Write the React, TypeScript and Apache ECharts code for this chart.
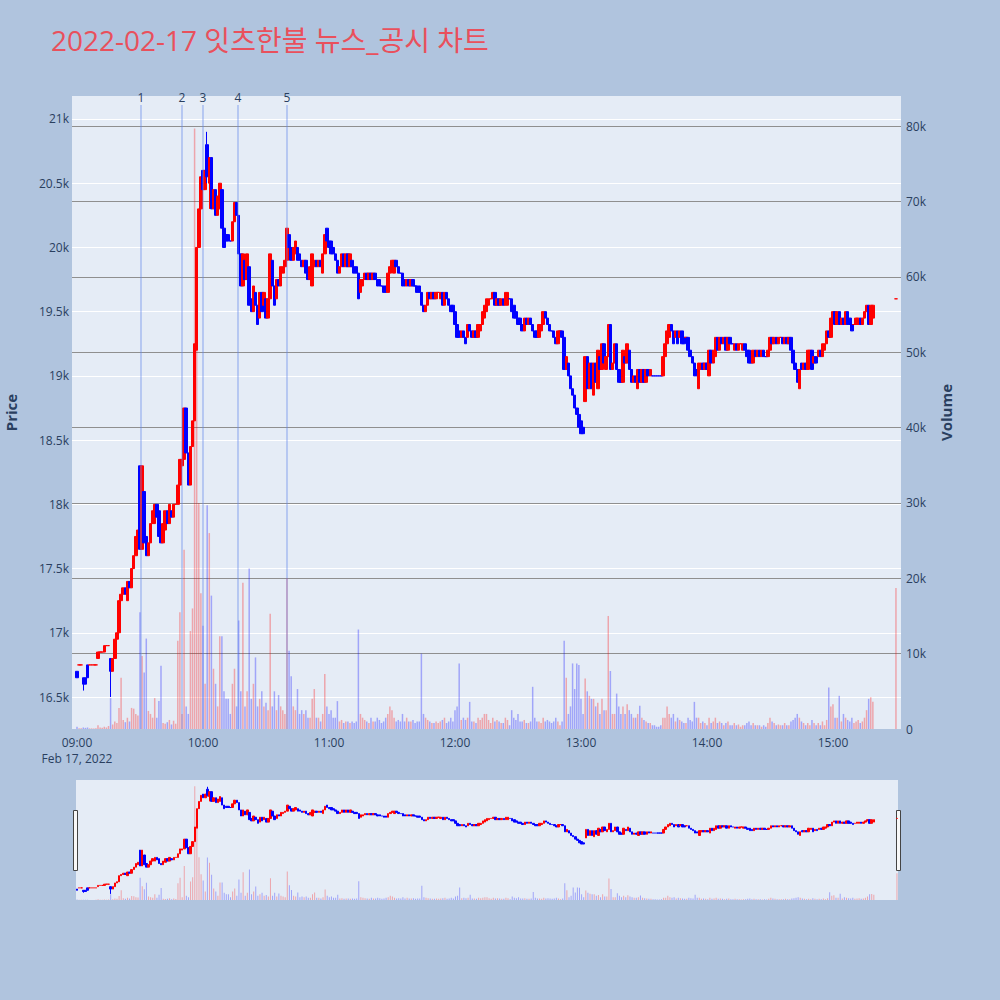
import React, { useEffect, useRef } from "react";
import * as echarts from "echarts";

// ---- data (minute index from 09:00) ----
const opens = [
  16700,16750,16750,16650,16650,16750,16750,16750,16750,16750,
  16800,16850,16850,16850,16900,16900,16800,16700,16800,16950,
  17000,17250,17300,17350,17250,17400,17350,17500,17600,17700,
  18300,17650,18100,17750,17600,17700,17850,17850,18000,17950,
  17750,17700,17800,17950,17850,17950,17900,18000,18000,18150,
  18300,18350,18750,18400,18150,18450,18650,19200,20000,20300,
  20600,20450,20800,20500,20700,20300,20450,20250,20300,20450,
  20150,20100,20100,20050,20050,20200,20350,20250,19950,19700,
  19900,19750,19850,19600,19500,19650,19550,19450,19650,19550,
  19600,19450,19600,19900,19700,19600,19750,19700,19800,19850,
  19900,20100,20000,19900,19950,20000,19950,19900,19850,19900,
  19800,19750,19700,19850,19900,19850,19900,19800,19950,20150,
  20050,20050,20000,19950,19900,19800,19850,19950,19850,19950,
  19850,19900,19850,19850,19800,19650,19700,19750,19800,19750,
  19800,19750,19800,19750,19750,19700,19700,19700,19650,19800,
  19850,19800,19900,19850,19800,19800,19750,19700,19750,19700,
  19750,19700,19700,19700,19650,19550,19500,19550,19650,19600,
  19650,19600,19650,19600,19650,19550,19650,19600,19550,19550,
  19500,19400,19350,19300,19350,19300,19300,19400,19350,19300,
  19350,19300,19350,19400,19450,19500,19550,19600,19600,19650,
  19550,19600,19550,19600,19550,19550,19600,19600,19550,19500,
  19450,19450,19400,19350,19450,19400,19450,19400,19350,19350,
  19300,19350,19400,19500,19450,19400,19350,19350,19300,19250,
  19350,19350,19300,19050,19100,19000,18900,18850,18750,18700,
  18650,18600,18800,19150,18900,19100,18850,19100,18900,19150,
  19050,19250,19050,19150,19400,19050,19100,19250,19050,19000,
  18950,19150,19100,19200,19050,18950,19000,18900,19050,18950,
  19050,18950,19050,19000,19000,19000,19000,19000,19000,19000,
  19150,19250,19300,19400,19350,19300,19350,19300,19350,19300,
  19300,19300,19200,19150,19100,19050,18900,19050,19100,19050,
  19100,19000,19200,19100,19150,19300,19200,19300,19250,19300,
  19200,19300,19250,19200,19250,19200,19250,19200,19250,19200,
  19200,19150,19100,19200,19150,19200,19150,19200,19150,19150,
  19200,19300,19250,19300,19250,19300,19300,19250,19300,19250,
  19300,19200,19100,19050,18900,19100,19050,19100,19050,19150,
  19200,19100,19150,19150,19200,19150,19200,19250,19350,19300,
  19450,19500,19400,19500,19400,19450,19400,19500,19450,19400,
  19400,19400,19400,19450,19400,19450,19500,19550,19400,19450,
];
const closes = [
  16650,16750,16750,16600,16600,16650,16750,16750,16750,16750,
  16850,16850,16850,16900,16900,16900,16700,16800,16950,17000,
  17250,17300,17350,17300,17400,17350,17500,17600,17750,17800,
  17650,18300,17700,17600,17700,17850,17950,18000,17900,17750,
  17700,17850,17950,17850,18000,17900,18000,18000,18150,18350,
  18350,18750,18400,18150,18450,18650,19250,20000,20300,20550,
  20450,20600,20550,20700,20300,20450,20250,20400,20500,20150,
  20000,20050,20050,20050,20200,20350,20250,19950,19700,19950,
  19750,19950,19550,19500,19700,19550,19400,19650,19500,19650,
  19450,19600,19950,19700,19550,19750,19700,19850,19850,19900,
  20150,20000,19900,20000,20050,19900,19900,19850,19900,19800,
  19750,19850,19950,19900,19850,19900,19850,19950,20100,20050,
  20000,19950,19950,19900,19800,19850,19950,19850,19950,19850,
  19950,19850,19800,19800,19600,19750,19750,19800,19750,19800,
  19750,19800,19750,19700,19700,19700,19650,19650,19800,19850,
  19900,19900,19850,19800,19800,19700,19700,19750,19700,19750,
  19700,19700,19650,19650,19550,19500,19550,19650,19600,19650,
  19600,19650,19650,19650,19550,19650,19600,19550,19500,19500,
  19400,19300,19300,19350,19300,19250,19400,19350,19300,19350,
  19300,19400,19400,19500,19550,19600,19600,19600,19650,19550,
  19600,19550,19600,19550,19650,19650,19600,19500,19450,19450,
  19400,19400,19350,19450,19400,19450,19400,19350,19300,19300,
  19400,19400,19500,19450,19400,19350,19350,19300,19250,19350,
  19350,19300,19050,19150,19000,18900,18850,18750,18700,18600,
  18550,18550,19150,18900,19100,18900,19100,18950,19200,19050,
  19250,19100,19150,19400,19050,19100,19250,19050,18950,18950,
  19200,19100,19250,19050,18950,19000,18950,19050,18950,19050,
  18950,19050,19000,19050,19000,19000,19000,19000,19000,19150,
  19250,19350,19400,19350,19250,19350,19250,19350,19250,19250,
  19300,19200,19150,19100,19000,19000,19100,19100,19050,19100,
  19050,19200,19100,19200,19300,19200,19300,19250,19300,19200,
  19300,19250,19250,19250,19200,19250,19250,19250,19200,19150,
  19100,19100,19200,19150,19200,19150,19200,19150,19150,19200,
  19300,19250,19300,19250,19300,19300,19250,19300,19250,19300,
  19200,19100,19050,18950,19050,19050,19100,19050,19200,19200,
  19050,19150,19100,19200,19150,19250,19250,19350,19300,19450,
  19500,19400,19500,19400,19450,19400,19500,19400,19400,19350,
  19400,19450,19450,19400,19450,19500,19550,19400,19550,19550,
];
const volumes = [
  300,100,100,200,150,200,80,80,80,100,
  500,200,150,300,200,400,4100,600,1000,800,
  2800,6800,1200,900,1500,1000,2800,2700,2000,1800,
  15500,9700,7500,12000,2400,2000,1500,4100,1500,3700,
  8400,800,700,900,1200,600,1100,700,11700,15500,
  2000,23800,3000,2000,13000,16000,79700,56600,30000,18000,
  13700,6000,29700,26000,17700,8000,6000,3000,12300,12300,
  5000,4000,4000,2000,6000,8000,3000,14400,5000,19400,
  3000,5000,21300,4000,6000,9500,3000,4000,5000,3000,
  3500,2500,15300,3000,5000,2500,4500,3000,2500,2000,
  20000,10400,7000,3000,2500,5300,2000,2500,2000,2500,
  1500,1500,4000,5300,1500,1500,1000,2000,7300,3000,
  2000,2500,1500,1500,3700,1000,1200,800,1000,1000,
  800,1000,800,1000,13200,2000,1500,1200,1000,800,
  1500,1000,1000,1500,1200,800,1000,1500,2000,3000,
  2500,1500,1000,1200,1000,2000,1000,1500,1000,1000,
  1200,800,1000,1000,10000,2000,1500,1200,1000,800,
  800,1000,800,1000,1200,1500,800,1000,1500,1000,
  2500,3000,8700,1200,1500,1200,1500,3600,1000,1000,
  800,1500,1200,1500,2000,2000,1200,800,1500,1000,
  1200,1000,800,800,1500,1200,500,2500,1500,1200,
  2000,1000,1000,1200,800,800,1000,5600,1500,1000,
  1000,800,1500,1000,1200,1000,800,1000,1500,1000,
  500,1000,11700,6800,2000,3000,8700,5300,8700,8500,
  4000,2000,6700,5000,4400,4000,4000,3000,3500,2000,
  4000,2500,2500,15000,7700,2000,2000,4700,3000,2000,
  3000,2000,3300,2500,2000,1500,1500,2000,3100,1500,
  1200,1000,800,800,500,500,300,300,500,1500,
  1500,3000,2000,1500,2000,1000,1500,1200,1000,800,
  800,1500,1200,1000,3600,1500,1500,800,1000,800,
  500,1500,800,1000,1500,800,1000,800,500,800,
  1000,500,500,800,500,600,300,500,500,800,
  1000,500,800,500,500,500,300,500,300,800,
  1500,1000,800,500,600,500,500,800,500,500,
  1000,1200,1500,2000,1500,1000,800,500,800,500,
  1200,800,500,800,500,1000,500,1200,5500,3000,
  3300,1500,1500,4400,1000,2000,1500,1200,1000,1500,
  800,1000,1200,800,1000,1500,2500,4000,4200,3600,
];
// visible wicks: [minute, high, low]
const wicks = [
  [3, 16650, 16550],
  [16, 16800, 16500],
  [62, 20900, 20500],
  [63, 20700, 20300],
];
// closing auction at 15:30
const auctionMinute = 390;
const auctionPrice = 19600;
const auctionVolume = 18700;

const newsTimes = [30.5, 50, 60, 76.7, 100];
const newsLabels = ["1", "2", "3", "4", "5"];
const hourTicks = [0, 60, 120, 180, 240, 300, 360];
const priceTicks = [16500, 17000, 17500, 18000, 18500, 19000, 19500, 20000, 20500, 21000];

const TITLE = "2022-02-17 잇츠한불 뉴스_공시 차트";
const UP = "#ff0000";
const DOWN = "#0000ff";
const UP_A = "rgba(255,0,0,0.3)";
const DOWN_A = "rgba(0,0,255,0.3)";
const FONT = '"Open Sans", "Noto Sans CJK KR", sans-serif';
const TXT = "#2a3f5f";

const P_MIN = 16251, P_MAX = 21179, V_MAX = 84000;

function buildData() {
  const allO = [...opens, auctionPrice];
  const allC = [...closes, auctionPrice];
  const allM = [...opens.map((_, i) => i), auctionMinute];
  const allV = [...volumes, auctionVolume];
  const ups: boolean[] = [];
  for (let i = 0; i < allO.length; i++) {
    const o = allO[i], c = allC[i];
    if (c > o) ups.push(true);
    else if (c < o) ups.push(false);
    else if (i === 0) ups.push(true);
    else if (c > allC[i - 1]) ups.push(true);
    else if (c < allC[i - 1]) ups.push(false);
    else ups.push(ups[i - 1]);
  }
  const candles = allO.map((o, i) => {
    const c = allC[i];
    let lo = Math.min(o, c), hi = Math.max(o, c);
    const w = wicks.find((k) => k[0] === allM[i]);
    if (w) { hi = Math.max(hi, w[1]); lo = Math.min(lo, w[2]); }
    const col = ups[i] ? UP : DOWN;
    return {
      value: [allM[i], o, c, lo, hi],
      itemStyle: { color: col, color0: col, borderColor: col, borderColor0: col },
    };
  });
  const vols = allV.map((v, i) => ({
    value: [allM[i], v],
    itemStyle: { color: ups[i] ? UP_A : DOWN_A },
  }));
  return { candles, vols };
}

export default function App() {
  const ref = useRef<HTMLDivElement>(null);
  useEffect(() => {
    if (!ref.current) return;
    const chart = echarts.init(ref.current, null, { renderer: "svg" });
    const { candles, vols } = buildData();
    const fmtTime = (v: number) => {
      const h = 9 + Math.floor(v / 60);
      const s = (h < 10 ? "0" : "") + h + ":00";
      return v === 0 ? s + "\nFeb 17, 2022" : s;
    };
    chart.setOption({
      animation: false,
      backgroundColor: "#b0c4de",
      textStyle: { fontFamily: FONT },
      title: {
        text: TITLE,
        left: 46,
        top: 21,
        textStyle: { fontFamily: FONT, fontSize: 28, fontWeight: "normal", color: "#e9505c" },
      },
      grid: [
        { left: 72, right: 99, top: 96, height: 633, show: true, backgroundColor: "#e5ecf6", borderWidth: 0, containLabel: false, outerBoundsMode: "none" },
        { left: 76, right: 102, top: 780, height: 120, show: true, backgroundColor: "#e5ecf6", borderWidth: 0, containLabel: false, outerBoundsMode: "none" },
      ],
      xAxis: [
        {
          type: "value", gridIndex: 0, min: -2.38, max: 392.4,
          axisLine: { show: false }, axisTick: { show: false }, splitLine: { show: false },
          axisLabel: {
            customValues: hourTicks, formatter: fmtTime, color: TXT, fontSize: 12,
            lineHeight: 16, margin: 5, fontFamily: FONT,
          },
        },
        {
          type: "value", gridIndex: 1, min: -0.5, max: 390.5, show: false,
          splitLine: { show: false },
        },
      ],
      yAxis: [
        {
          type: "value", gridIndex: 0, min: P_MIN, max: P_MAX, position: "left",
          name: "Price", nameLocation: "middle", nameRotate: 90, nameGap: 54,
          nameTextStyle: { color: TXT, fontSize: 15, fontWeight: "bold", fontFamily: FONT },
          axisLine: { show: false },
          axisTick: { show: false, customValues: priceTicks },
          axisLabel: {
            customValues: priceTicks, color: TXT, fontSize: 12, margin: 3, fontFamily: FONT,
            formatter: (v: number) => v / 1000 + "k",
          },
          splitLine: { show: true, lineStyle: { color: "#ffffff", width: 1 } },
        },
        {
          type: "value", gridIndex: 0, min: 0, max: V_MAX, interval: 10000, position: "right",
          name: "Volume", nameLocation: "middle", nameRotate: 90, nameGap: 37,
          nameTextStyle: { color: TXT, fontSize: 15, fontWeight: "bold", fontFamily: FONT },
          axisLine: { show: false }, axisTick: { show: false },
          axisLabel: {
            color: TXT, fontSize: 12, margin: 5, fontFamily: FONT, showMaxLabel: false,
            formatter: (v: number) => (v === 0 ? "0" : v / 1000 + "k"),
          },
          splitLine: { show: true, showMinLine: false, showMaxLine: false, lineStyle: { color: "#8f8f8f", width: 1.2 } },
        },
        { type: "value", gridIndex: 1, min: P_MIN, max: P_MAX, show: false, splitLine: { show: false } },
        { type: "value", gridIndex: 1, min: 0, max: V_MAX, show: false, splitLine: { show: false } },
      ],
      series: [
        {
          type: "bar", name: "Volume", xAxisIndex: 0, yAxisIndex: 1, data: vols,
          barWidth: 1.5, silent: true,
          markLine: {
            silent: true, symbol: ["none", "none"],
            lineStyle: { color: "rgba(100,135,235,0.45)", width: 1.6, type: "solid" },
            label: { show: true, position: "end", formatter: "{b}", color: TXT, fontSize: 12, distance: 2, fontFamily: FONT },
            data: newsTimes.map((t, i) => [
              { name: newsLabels[i], coord: [t, 0] },
              { coord: [t, 82800] },
            ]),
          },
        },
        {
          type: "candlestick", name: "Price", xAxisIndex: 0, yAxisIndex: 0, data: candles,
          encode: { x: 0, y: [1, 2, 3, 4] }, barWidth: 3,
          itemStyle: { borderWidth: 1 },
        },
        {
          type: "bar", xAxisIndex: 1, yAxisIndex: 3, data: vols, barWidth: 1, silent: true,
        },
        {
          type: "candlestick", xAxisIndex: 1, yAxisIndex: 2, data: candles,
          encode: { x: 0, y: [1, 2, 3, 4] }, barWidth: 2,
          itemStyle: { borderWidth: 1 },
        },
      ],
      graphic: [
        { type: "rect", shape: { x: 73.5, y: 810.5, width: 4, height: 60 }, style: { fill: "#f8f8f8", stroke: "#444", lineWidth: 1 } },
        { type: "rect", shape: { x: 896.5, y: 810.5, width: 4, height: 60 }, style: { fill: "#f8f8f8", stroke: "#444", lineWidth: 1 } },
      ],
    });
    return () => chart.dispose();
  }, []);
  return (
    <div
      ref={ref}
      style={{ position: "absolute", left: 0, top: 0, width: 1000, height: 1000 }}
    />
  );
}
